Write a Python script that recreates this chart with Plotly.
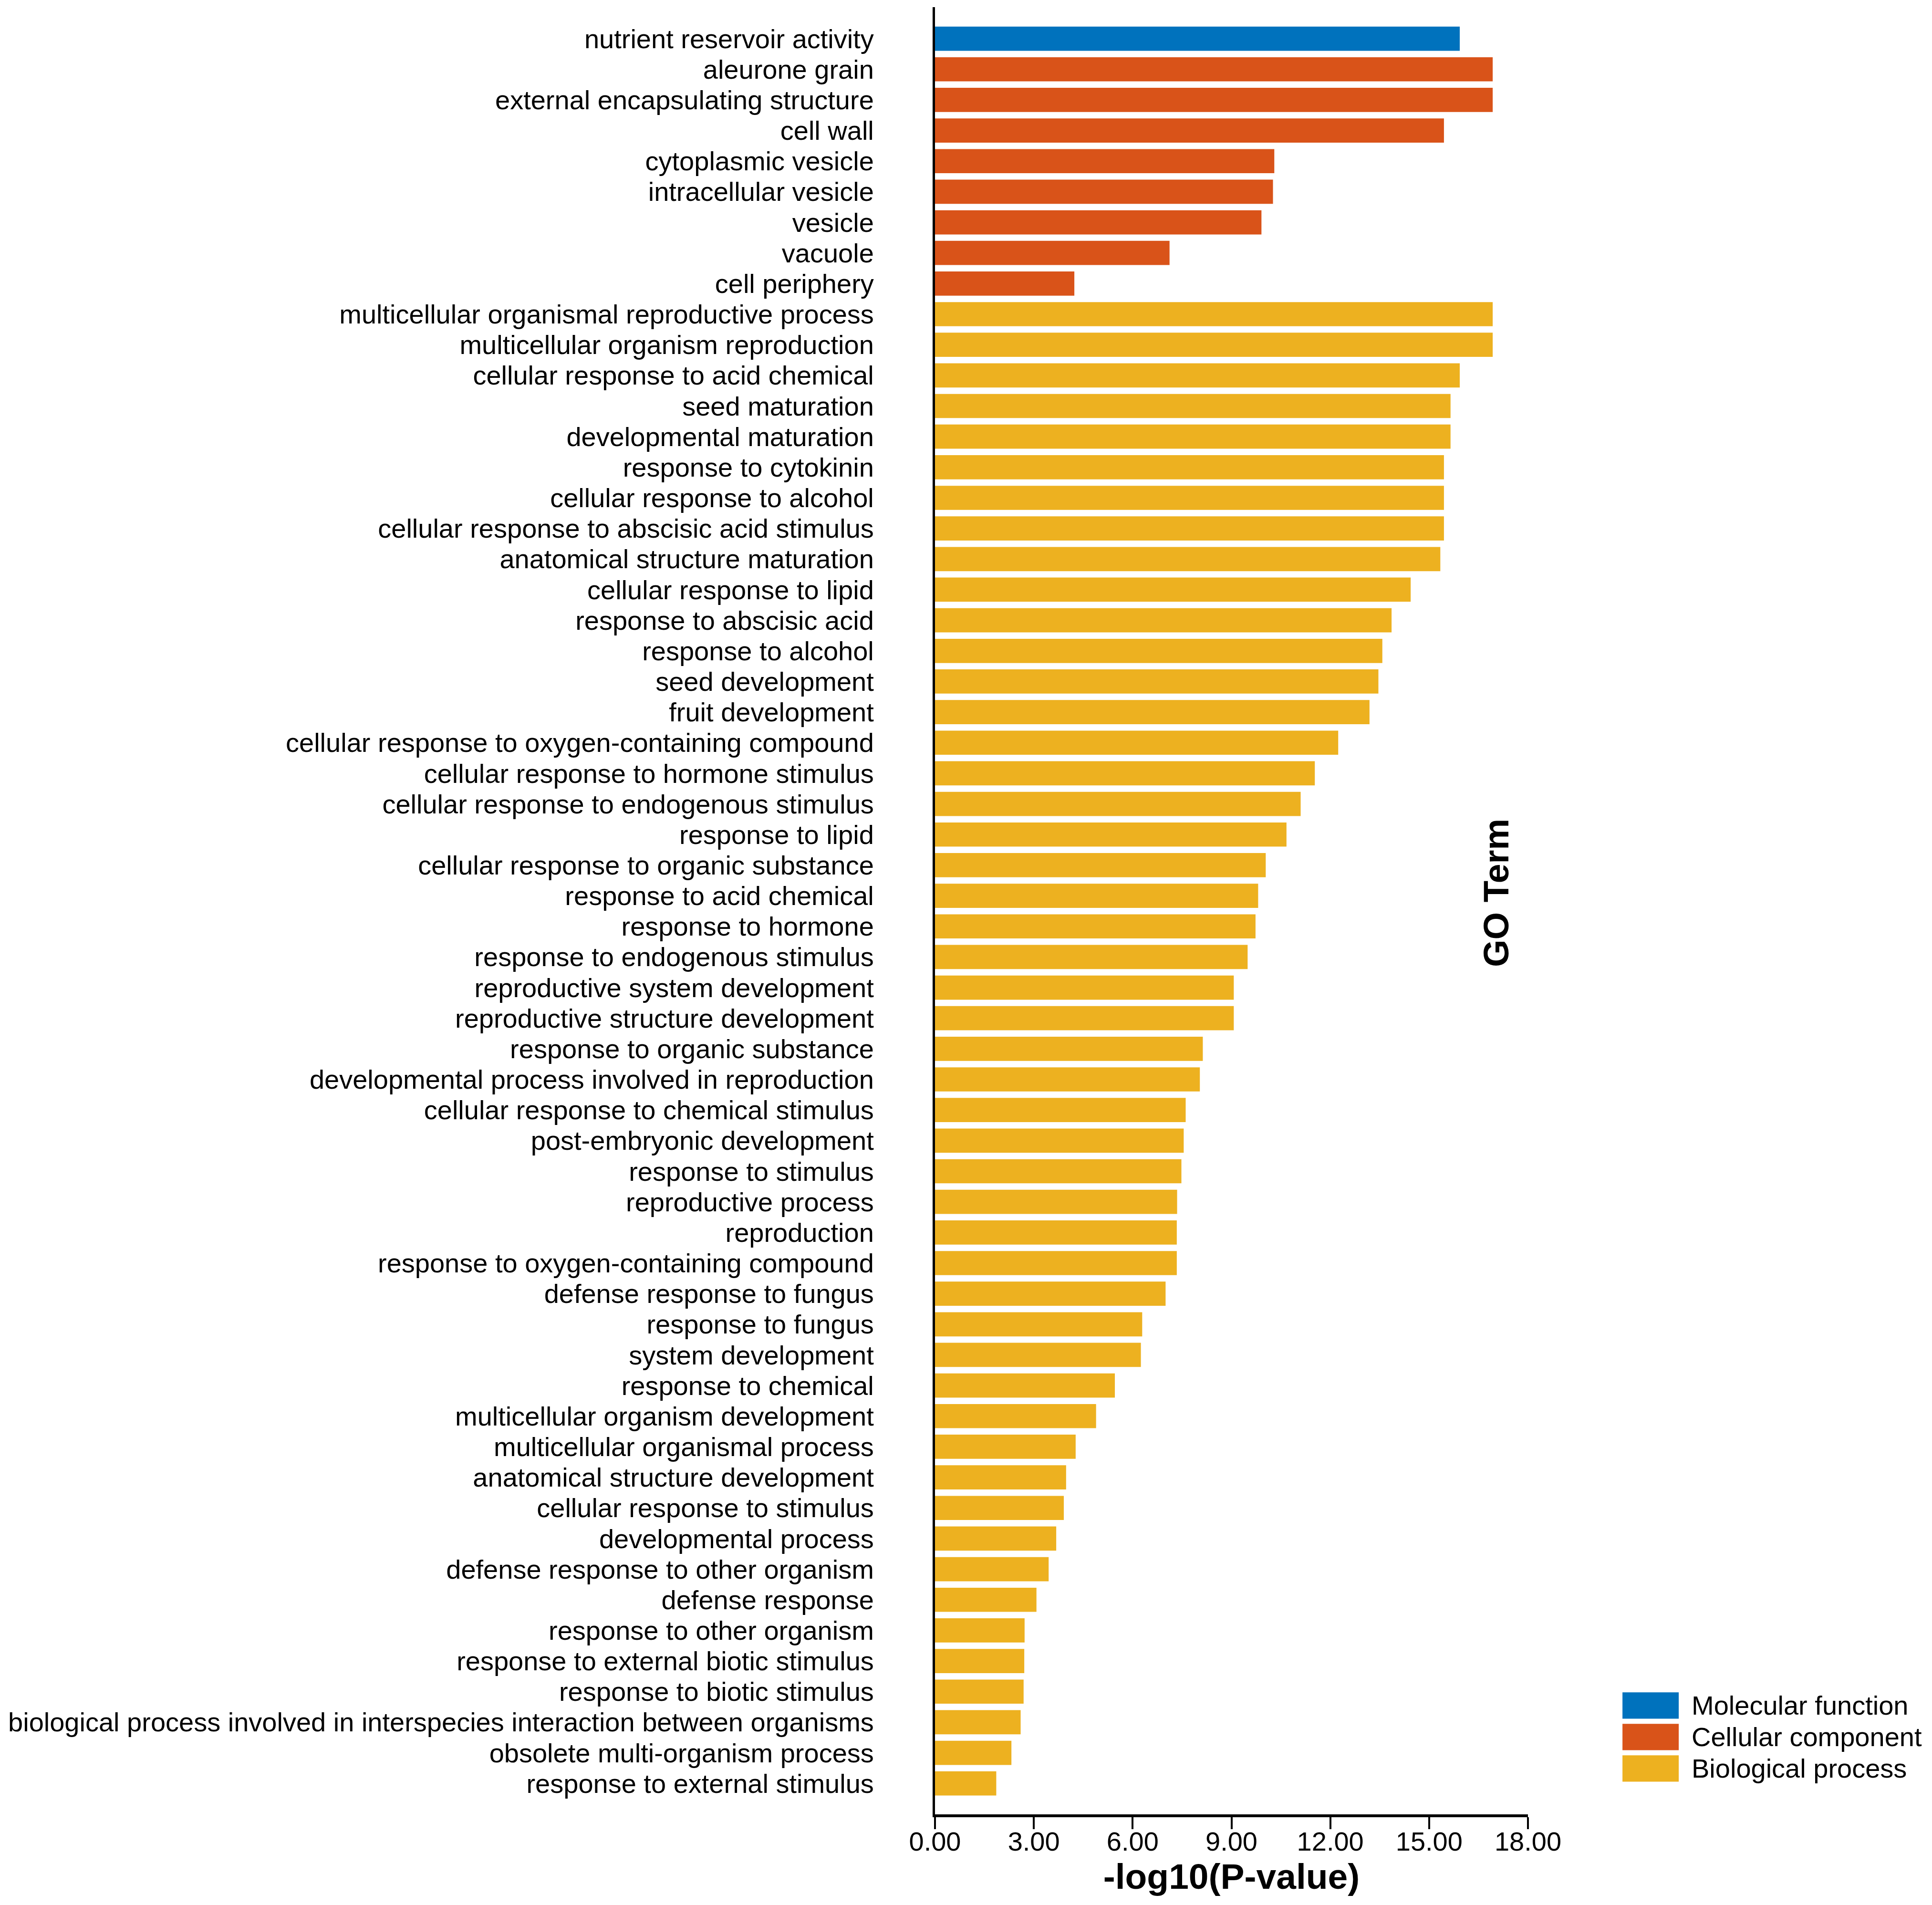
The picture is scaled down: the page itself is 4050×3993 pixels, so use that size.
import plotly.graph_objects as go

# GO enrichment, -log10(P-value), listed top to bottom
mf_terms = ["nutrient reservoir activity"]
mf_values = [15.93]

cc_terms = [
    "aleurone grain", "external encapsulating structure", "cell wall",
    "cytoplasmic vesicle", "intracellular vesicle", "vesicle", "vacuole",
    "cell periphery",
]
cc_values = [16.93, 16.93, 15.45, 10.30, 10.26, 9.91, 7.12, 4.23]

bp_terms = [
    "multicellular organismal reproductive process",
    "multicellular organism reproduction",
    "cellular response to acid chemical",
    "seed maturation",
    "developmental maturation",
    "response to cytokinin",
    "cellular response to alcohol",
    "cellular response to abscisic acid stimulus",
    "anatomical structure maturation",
    "cellular response to lipid",
    "response to abscisic acid",
    "response to alcohol",
    "seed development",
    "fruit development",
    "cellular response to oxygen-containing compound",
    "cellular response to hormone stimulus",
    "cellular response to endogenous stimulus",
    "response to lipid",
    "cellular response to organic substance",
    "response to acid chemical",
    "response to hormone",
    "response to endogenous stimulus",
    "reproductive system development",
    "reproductive structure development",
    "response to organic substance",
    "developmental process involved in reproduction",
    "cellular response to chemical stimulus",
    "post-embryonic development",
    "response to stimulus",
    "reproductive process",
    "reproduction",
    "response to oxygen-containing compound",
    "defense response to fungus",
    "response to fungus",
    "system development",
    "response to chemical",
    "multicellular organism development",
    "multicellular organismal process",
    "anatomical structure development",
    "cellular response to stimulus",
    "developmental process",
    "defense response to other organism",
    "defense response",
    "response to other organism",
    "response to external biotic stimulus",
    "response to biotic stimulus",
    "biological process involved in interspecies interaction between organisms",
    "obsolete multi-organism process",
    "response to external stimulus",
]
bp_values = [
    16.93, 16.93, 15.93, 15.65, 15.65, 15.45, 15.45, 15.45, 15.34, 14.44,
    13.86, 13.58, 13.46, 13.19, 12.24, 11.53, 11.10, 10.67, 10.04, 9.81,
    9.73, 9.49, 9.07, 9.07, 8.13, 8.04, 7.61, 7.55, 7.48, 7.35,
    7.34, 7.34, 7.00, 6.29, 6.25, 5.46, 4.89, 4.27, 3.98, 3.91,
    3.68, 3.45, 3.08, 2.72, 2.71, 2.69, 2.60, 2.32, 1.86,
]

groups = ["Molecular function", "Cellular component", "Biological process"]
colors = ["#0072BD", "#D95319", "#EDB120"]
x_ticks = [0, 3, 6, 9, 12, 15, 18]

all_terms = mf_terms + cc_terms + bp_terms
FONT = "Liberation Sans, Arial, sans-serif"

fig = go.Figure()
for name, terms, vals, col in zip(groups, [mf_terms, cc_terms, bp_terms],
                                  [mf_values, cc_values, bp_values], colors):
    fig.add_trace(go.Bar(
        y=terms, x=vals, orientation="h", name=name,
        marker=dict(color=col, line=dict(width=0)),
        showlegend=False,
    ))

fig.update_layout(
    width=4050, height=3993,
    margin=dict(l=1952, r=855, t=7, b=198),
    plot_bgcolor="white", paper_bgcolor="white",
    barmode="overlay", bargap=0.21,
    font=dict(family=FONT, size=56, color="black"),
)

fig.update_xaxes(
    range=[0, 18], tickvals=x_ticks, tickformat=".2f",
    showgrid=False, zeroline=False,
    showline=True, linecolor="black", linewidth=6,
    ticks="outside", ticklen=25, tickwidth=4, tickcolor="black",
    tickfont=dict(size=56), ticklabelstandoff=-22,
    title=dict(text="<b>-log10(P-value)</b>", font=dict(size=75), standoff=11),
)
fig.update_yaxes(
    categoryorder="array", categoryarray=all_terms,
    tickmode="array", tickvals=all_terms, ticktext=all_terms,
    range=[58.01, -1.03],
    showgrid=False, zeroline=False,
    showline=True, linecolor="black", linewidth=5,
    ticks="", ticklabelstandoff=112,
    tickfont=dict(size=56),
)

fig.add_annotation(
    text="<b>GO Term</b>", textangle=-90,
    xref="paper", yref="paper", x=0.947, y=0.5098,
    xanchor="center", yanchor="middle",
    showarrow=False, font=dict(size=74),
)

# legend drawn by hand so the swatches can be as large as in the original
sw_y = [0.0602, 0.0428, 0.0254]
for name, col, yc in zip(groups, colors, sw_y):
    fig.add_shape(
        type="rect", xref="paper", yref="paper",
        x0=1.1594, x1=1.2543, y0=yc - 0.0073, y1=yc + 0.0073,
        fillcolor=col, line=dict(width=0),
    )
    fig.add_annotation(
        text=name, xref="paper", yref="paper", x=1.2741, y=yc,
        xanchor="left", yanchor="middle", showarrow=False,
        font=dict(size=56),
    )

fig.write_html("out.html")
